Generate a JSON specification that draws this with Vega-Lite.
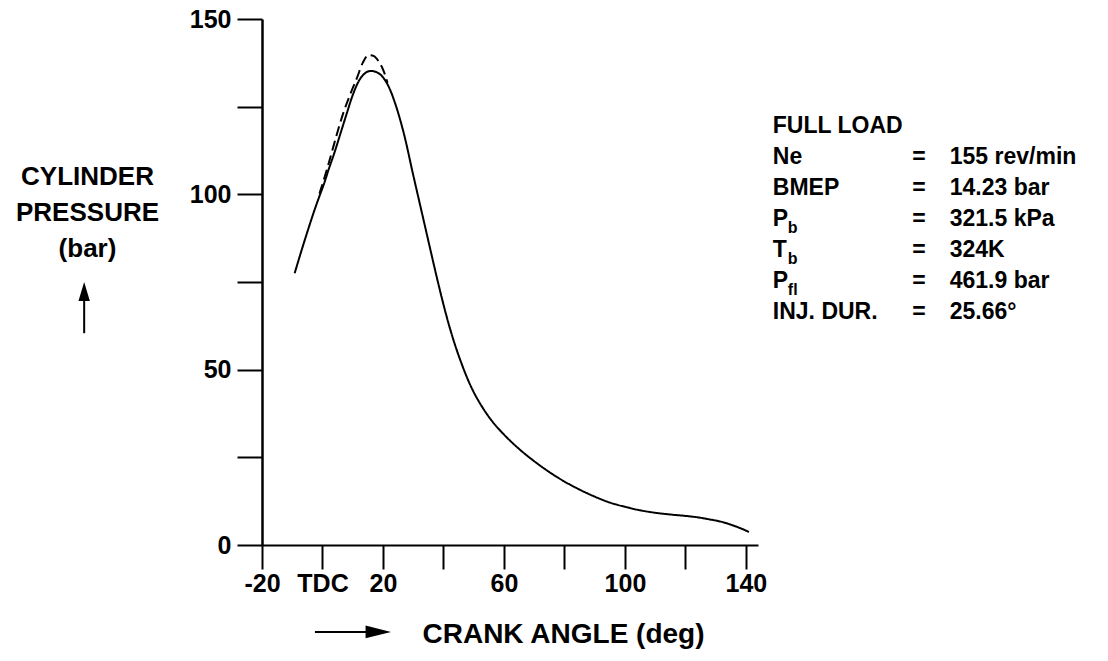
{
  "$schema": "https://vega.github.io/schema/vega-lite/v6.json",
  "width": 496,
  "height": 526,
  "autosize": {"type": "none"},
  "padding": {"left": 262, "top": 19, "right": 350, "bottom": 116},
  "background": "white",
  "config": {"view": {"stroke": null}, "font": "Liberation Sans"},
  "layer": [
    {
      "data": {"values": [
        {"angle": -9.2, "pressure": 77.5, "series": "measured"},
        {"angle": -7, "pressure": 83.8, "series": "measured"},
        {"angle": -5, "pressure": 89.3, "series": "measured"},
        {"angle": -3, "pressure": 94.6, "series": "measured"},
        {"angle": -1, "pressure": 99.5, "series": "measured"},
        {"angle": 0.5, "pressure": 103, "series": "measured"},
        {"angle": 2, "pressure": 107, "series": "measured"},
        {"angle": 4, "pressure": 112, "series": "measured"},
        {"angle": 6, "pressure": 117.5, "series": "measured"},
        {"angle": 8, "pressure": 123, "series": "measured"},
        {"angle": 10, "pressure": 128.3, "series": "measured"},
        {"angle": 12, "pressure": 132.3, "series": "measured"},
        {"angle": 14, "pressure": 134.5, "series": "measured"},
        {"angle": 16, "pressure": 135.2, "series": "measured"},
        {"angle": 18, "pressure": 134.8, "series": "measured"},
        {"angle": 20, "pressure": 133.4, "series": "measured"},
        {"angle": 22, "pressure": 130.5, "series": "measured"},
        {"angle": 24, "pressure": 126, "series": "measured"},
        {"angle": 27, "pressure": 117, "series": "measured"},
        {"angle": 30, "pressure": 105.5, "series": "measured"},
        {"angle": 32, "pressure": 98, "series": "measured"},
        {"angle": 34, "pressure": 90.5, "series": "measured"},
        {"angle": 36, "pressure": 83, "series": "measured"},
        {"angle": 38, "pressure": 75.6, "series": "measured"},
        {"angle": 40, "pressure": 68.6, "series": "measured"},
        {"angle": 42, "pressure": 62.2, "series": "measured"},
        {"angle": 44, "pressure": 56.6, "series": "measured"},
        {"angle": 46, "pressure": 51.7, "series": "measured"},
        {"angle": 48, "pressure": 47.3, "series": "measured"},
        {"angle": 50, "pressure": 43.6, "series": "measured"},
        {"angle": 53, "pressure": 39.1, "series": "measured"},
        {"angle": 56, "pressure": 35.4, "series": "measured"},
        {"angle": 60, "pressure": 31.5, "series": "measured"},
        {"angle": 65, "pressure": 27.4, "series": "measured"},
        {"angle": 70, "pressure": 23.9, "series": "measured"},
        {"angle": 75, "pressure": 20.8, "series": "measured"},
        {"angle": 80, "pressure": 18.1, "series": "measured"},
        {"angle": 85, "pressure": 15.8, "series": "measured"},
        {"angle": 90, "pressure": 13.8, "series": "measured"},
        {"angle": 95, "pressure": 12.1, "series": "measured"},
        {"angle": 100, "pressure": 10.9, "series": "measured"},
        {"angle": 105, "pressure": 9.9, "series": "measured"},
        {"angle": 110, "pressure": 9.2, "series": "measured"},
        {"angle": 115, "pressure": 8.7, "series": "measured"},
        {"angle": 120, "pressure": 8.3, "series": "measured"},
        {"angle": 124, "pressure": 7.9, "series": "measured"},
        {"angle": 128, "pressure": 7.3, "series": "measured"},
        {"angle": 132, "pressure": 6.6, "series": "measured"},
        {"angle": 136, "pressure": 5.5, "series": "measured"},
        {"angle": 139, "pressure": 4.5, "series": "measured"},
        {"angle": 141, "pressure": 3.7, "series": "measured"},
        {"angle": -1, "pressure": 100.2, "series": "calculated"},
        {"angle": 1.4, "pressure": 106.9, "series": "calculated"},
        {"angle": 3.6, "pressure": 113.6, "series": "calculated"},
        {"angle": 5.3, "pressure": 118.8, "series": "calculated"},
        {"angle": 7, "pressure": 123.5, "series": "calculated"},
        {"angle": 9.2, "pressure": 128.6, "series": "calculated"},
        {"angle": 11.4, "pressure": 133.2, "series": "calculated"},
        {"angle": 13.3, "pressure": 137.5, "series": "calculated"},
        {"angle": 15.2, "pressure": 139.7, "series": "calculated"},
        {"angle": 17, "pressure": 139.4, "series": "calculated"},
        {"angle": 18.5, "pressure": 138, "series": "calculated"},
        {"angle": 20.2, "pressure": 135.2, "series": "calculated"},
        {"angle": 21.5, "pressure": 131.8, "series": "calculated"}
      ]},
      "layer": [
        {
          "mark": {"type": "line", "color": "black", "strokeWidth": 2, "interpolate": "monotone"},
          "encoding": {
            "x": {
              "field": "angle", "type": "quantitative",
              "scale": {"domain": [-20, 144], "nice": false, "zero": false},
              "axis": {
                "values": [-20, 0, 20, 40, 60, 80, 100, 120, 140],
                "labelExpr": "datum.value === -20 ? '-20' : (datum.value === 0 ? 'TDC' : ((datum.value === 40 || datum.value === 80 || datum.value === 120) ? '' : datum.label))",
                "tickSize": 24, "tickWidth": 2, "tickColor": "black",
                "domainColor": "black", "domainWidth": 2, "grid": false,
                "labelFont": "Liberation Sans", "labelFontSize": 25, "labelFontWeight": "bold", "labelColor": "black",
                "labelPadding": 2, "labelFlush": false, "labelOverlap": false,
                "title": "CRANK ANGLE (deg)",
                "titleFont": "Liberation Sans", "titleFontSize": 28, "titleFontWeight": "bold", "titleColor": "black",
                "titleAlign": "center", "titleBaseline": "alphabetic", "titleX": 301, "titleY": 97
              }
            },
            "y": {
              "field": "pressure", "type": "quantitative",
              "scale": {"domain": [0, 150], "nice": false, "zero": false},
              "axis": {
                "values": [0, 25, 50, 75, 100, 125, 150],
                "labelExpr": "datum.value % 50 === 0 ? datum.label : ''",
                "tickSize": 25, "tickWidth": 2, "tickColor": "black",
                "domainColor": "black", "domainWidth": 2.5, "grid": false,
                "labelFont": "Liberation Sans", "labelFontSize": 25, "labelFontWeight": "bold", "labelColor": "black",
                "labelPadding": 6, "labelFlush": false, "labelOverlap": false,
                "title": ["CYLINDER", "PRESSURE", "(bar)"],
                "titleFont": "Liberation Sans", "titleFontSize": 26, "titleFontWeight": "bold", "titleColor": "black",
                "titleAngle": 0, "titleAlign": "center", "titleBaseline": "top",
                "titleX": -175, "titleY": 144, "titleLineHeight": 36
              }
            },
            "strokeDash": {
              "field": "series", "type": "nominal",
              "scale": {"domain": ["measured", "calculated"], "range": [[1, 0], [10, 5]]},
              "legend": null
            }
          }
        },
        {
          "data": {"values": [{"arrow": "pressure"}]},
          "mark": {"type": "rule", "color": "black", "strokeWidth": 2},
          "encoding": {"x": {"datum": -78.8}, "y": {"datum": 60.4}, "y2": {"datum": 71.5}}
        },
        {
          "data": {"values": [{"arrow": "pressure"}]},
          "mark": {"type": "point", "shape": "M0,-1L0.6,1L-0.6,1Z", "filled": true, "color": "black", "size": 360, "opacity": 1, "strokeWidth": 0},
          "encoding": {"x": {"datum": -78.8}, "y": {"datum": 72.3}}
        },
        {
          "data": {"values": [{"arrow": "angle"}]},
          "mark": {"type": "rule", "color": "black", "strokeWidth": 2},
          "encoding": {"x": {"datum": -2.5}, "x2": {"datum": 17}, "y": {"datum": -24.8}}
        },
        {
          "data": {"values": [{"arrow": "angle"}]},
          "mark": {"type": "point", "shape": "M1,0L-1,-0.5L-1,0.5Z", "filled": true, "color": "black", "size": 650, "opacity": 1, "strokeWidth": 0},
          "encoding": {"x": {"datum": 18.45}, "y": {"datum": -24.8}}
        }
      ]
    },
    {
      "data": {"values": [
        {"line": 0, "label": "FULL LOAD", "eq": "", "value": ""},
        {"line": 1, "label": "Ne", "eq": "=", "value": "155 rev/min"},
        {"line": 2, "label": "BMEP", "eq": "=", "value": "14.23 bar"},
        {"line": 3, "label": "P", "sub": "b", "eq": "=", "value": "321.5 kPa"},
        {"line": 4, "label": "T", "sub": "b", "eq": "=", "value": "324K"},
        {"line": 5, "label": "P", "sub": "fl", "eq": "=", "value": "461.9 bar"},
        {"line": 6, "label": "INJ. DUR.", "eq": "=", "value": "25.66°"}
      ]},
      "layer": [
        {
          "mark": {"type": "text", "font": "Liberation Sans", "fontWeight": "bold", "fontSize": 23, "align": "left", "baseline": "middle", "color": "black"},
          "encoding": {
            "x": {"datum": 148.9, "type": "quantitative"},
            "y": {"field": "line", "type": "quantitative", "scale": {"domain": [-3.45, 13.52], "reverse": true, "nice": false, "zero": false}, "axis": null},
            "text": {"field": "label"}
          }
        },
        {
          "mark": {"type": "text", "font": "Liberation Sans", "fontWeight": "bold", "fontSize": 23, "align": "center", "baseline": "middle", "color": "black"},
          "encoding": {
            "x": {"datum": 197.2, "type": "quantitative"},
            "y": {"field": "line", "type": "quantitative", "scale": {"domain": [-3.45, 13.52], "reverse": true, "nice": false, "zero": false}, "axis": null},
            "text": {"field": "eq"}
          }
        },
        {
          "mark": {"type": "text", "font": "Liberation Sans", "fontWeight": "bold", "fontSize": 23, "align": "left", "baseline": "middle", "color": "black"},
          "encoding": {
            "x": {"datum": 207.4, "type": "quantitative"},
            "y": {"field": "line", "type": "quantitative", "scale": {"domain": [-3.45, 13.52], "reverse": true, "nice": false, "zero": false}, "axis": null},
            "text": {"field": "value"}
          }
        },
        {
          "transform": [{"filter": "datum.sub != null"}],
          "mark": {"type": "text", "font": "Liberation Sans", "fontWeight": "bold", "fontSize": 16, "align": "left", "baseline": "middle", "color": "black", "dx": 15, "dy": 9},
          "encoding": {
            "x": {"datum": 148.9, "type": "quantitative"},
            "y": {"field": "line", "type": "quantitative", "scale": {"domain": [-3.45, 13.52], "reverse": true, "nice": false, "zero": false}, "axis": null},
            "text": {"field": "sub"}
          }
        }
      ]
    }
  ],
  "resolve": {"scale": {"y": "independent"}}
}
